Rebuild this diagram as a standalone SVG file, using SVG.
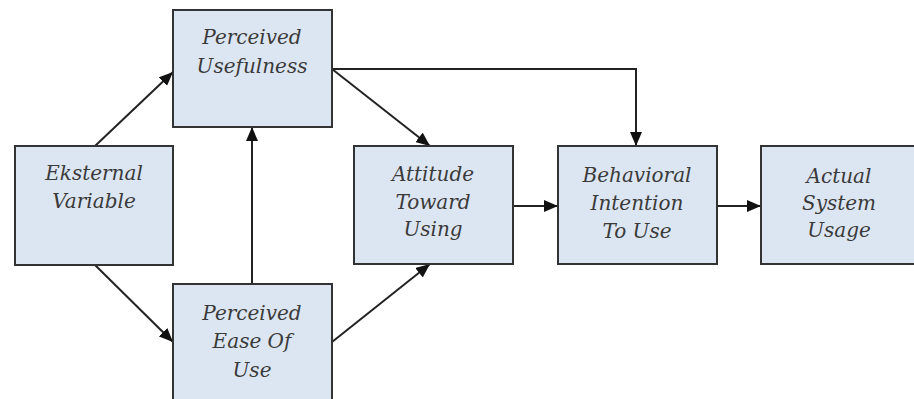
<svg xmlns="http://www.w3.org/2000/svg" width="914" height="399" viewBox="0 0 914 399">
  <style>
    .box { fill: #dce6f2; stroke: #333333; stroke-width: 2; }
    .lbl { font-family: "DejaVu Serif", "Liberation Serif", serif; font-style: italic; font-size: 20px; fill: #3a3a3a; text-anchor: middle; }
    .edge { fill: none; stroke: #222222; stroke-width: 2; }
  </style>
  <defs>
    <marker id="arrow" viewBox="0 0 14 12" refX="14" refY="6" markerWidth="14" markerHeight="12" markerUnits="userSpaceOnUse" orient="auto">
      <path d="M0,0 L14,6 L0,12 Z" fill="#111111"/>
    </marker>
  </defs>
  <rect width="914" height="399" fill="#ffffff"/>

  <g id="connectors">
    <line class="edge" x1="95" y1="146" x2="173" y2="72" marker-end="url(#arrow)"/>
    <line class="edge" x1="95" y1="265" x2="173" y2="342" marker-end="url(#arrow)"/>
    <line class="edge" x1="252" y1="284" x2="252" y2="127" marker-end="url(#arrow)"/>
    <line class="edge" x1="332" y1="69" x2="430" y2="146" marker-end="url(#arrow)"/>
    <line class="edge" x1="332" y1="342" x2="430" y2="264" marker-end="url(#arrow)"/>
    <polyline class="edge" points="332,69 636,69 636,146" marker-end="url(#arrow)"/>
    <line class="edge" x1="513" y1="206" x2="558" y2="206" marker-end="url(#arrow)"/>
    <line class="edge" x1="717" y1="206" x2="761" y2="206" marker-end="url(#arrow)"/>
  </g>

  <g id="eksternal-variable">
    <rect class="box" x="15" y="146" width="158" height="119"/>
    <text class="lbl" x="94" y="180">Eksternal</text>
    <text class="lbl" x="94" y="208">Variable</text>
  </g>

  <g id="perceived-usefulness">
    <rect class="box" x="173" y="10" width="159" height="117"/>
    <text class="lbl" x="252" y="44">Perceived</text>
    <text class="lbl" x="252" y="73">Usefulness</text>
  </g>

  <g id="perceived-ease-of-use">
    <rect class="box" x="173" y="284" width="159" height="130"/>
    <text class="lbl" x="252" y="320">Perceived</text>
    <text class="lbl" x="252" y="348">Ease Of</text>
    <text class="lbl" x="252" y="377">Use</text>
  </g>

  <g id="attitude-toward-using">
    <rect class="box" x="354" y="146" width="159" height="118"/>
    <text class="lbl" x="433" y="181">Attitude</text>
    <text class="lbl" x="433" y="209">Toward</text>
    <text class="lbl" x="433" y="236">Using</text>
  </g>

  <g id="behavioral-intention">
    <rect class="box" x="558" y="146" width="159" height="118"/>
    <text class="lbl" x="637" y="182">Behavioral</text>
    <text class="lbl" x="637" y="210">Intention</text>
    <text class="lbl" x="637" y="238">To Use</text>
  </g>

  <g id="actual-system-usage">
    <rect class="box" x="761" y="146" width="159" height="118"/>
    <text class="lbl" x="839" y="183">Actual</text>
    <text class="lbl" x="839" y="210">System</text>
    <text class="lbl" x="839" y="237">Usage</text>
  </g>
</svg>
